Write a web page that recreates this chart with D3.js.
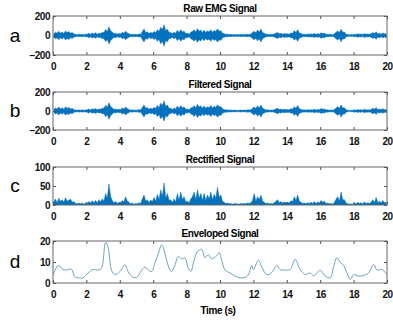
<!DOCTYPE html>
<html>
<head>
<meta charset="utf-8">
<script src="https://cdn.jsdelivr.net/npm/d3@7"></script>
<style>
  body { margin: 0; background: #fff; }
  text { font-family: "Liberation Sans", Arial, sans-serif; }
</style>
</head>
<body>
<div id="chart"></div>
<script>
// amplitude of the raw EMG band, one value per 0.1 s (units)
var rawAmp = [
  18, 34, 24, 44, 22, 36, 20, 46, 30, 40,
  22, 30, 16, 12, 8, 14, 9, 13, 8, 12,
  14, 22, 12, 26, 16, 28, 14, 24, 20, 32,
  30, 62, 40, 88, 50, 36, 18, 24, 14, 20,
  16, 34, 22, 44, 26, 18, 10, 14, 9, 12,
  10, 16, 12, 40, 66, 30, 38, 20, 32, 24,
  42, 28, 60, 40, 84, 60, 110, 50, 64, 30,
  30, 18, 34, 22, 54, 30, 58, 36, 44, 20,
  22, 14, 34, 40, 58, 36, 70, 44, 56, 32,
  54, 30, 48, 36, 60, 34, 52, 40, 68, 44,
  50, 24, 18, 12, 14, 9, 12, 8, 11, 8,
  10, 8, 12, 9, 11, 10, 13, 11, 16, 30,
  44, 28, 56, 34, 66, 30, 22, 12, 14, 9,
  12, 10, 16, 24, 30, 18, 22, 14, 20, 16,
  18, 14, 26, 22, 48, 30, 60, 26, 20, 12,
  14, 10, 16, 12, 16, 12, 20, 12, 18, 14,
  28, 20, 24, 12, 14, 9, 12, 8, 18, 34,
  46, 30, 64, 34, 36, 14, 10, 7, 9, 8,
  14, 10, 18, 12, 16, 10, 20, 12, 16, 12,
  18, 30, 20, 38, 16, 24, 14, 26, 16, 20
];

// filtered band, nearly the same as raw
var filtAmp = [
  16, 32, 22, 42, 20, 34, 18, 44, 28, 38,
  20, 28, 14, 11, 7, 12, 8, 12, 7, 11,
  12, 20, 11, 24, 15, 26, 13, 22, 18, 30,
  28, 60, 38, 86, 48, 34, 16, 22, 13, 18,
  15, 32, 20, 42, 24, 16, 9, 13, 8, 11,
  9, 15, 11, 38, 64, 28, 36, 18, 30, 22,
  40, 26, 58, 38, 82, 58, 106, 48, 62, 28,
  28, 16, 32, 20, 52, 28, 56, 34, 42, 18,
  20, 13, 32, 38, 56, 34, 68, 42, 54, 30,
  52, 28, 46, 34, 58, 32, 50, 38, 66, 42,
  48, 22, 16, 11, 12, 8, 11, 7, 10, 7,
  9, 7, 11, 8, 10, 9, 12, 10, 14, 28,
  42, 26, 54, 32, 64, 28, 20, 11, 12, 8,
  11, 9, 14, 22, 28, 16, 20, 13, 18, 14,
  16, 13, 24, 20, 46, 28, 58, 24, 18, 11,
  12, 9, 14, 11, 14, 11, 18, 11, 16, 12,
  26, 18, 22, 11, 12, 8, 11, 7, 16, 32,
  44, 28, 62, 32, 34, 13, 9, 6, 8, 7,
  12, 9, 16, 11, 14, 9, 18, 11, 14, 11,
  16, 28, 18, 36, 14, 22, 13, 24, 14, 18
];

// rectified signal peaks per 0.1 s
var rectVal = [
  8, 16, 6, 18, 9, 14, 7, 19, 10, 13,
  15, 7, 9, 4, 3, 5, 3, 5, 2, 5,
  4, 9, 5, 11, 6, 12, 5, 14, 8, 16,
  10, 30, 18, 55, 22, 12, 6, 9, 4, 7,
  5, 12, 8, 22, 10, 7, 3, 5, 2, 4,
  3, 6, 4, 16, 26, 10, 14, 6, 13, 9,
  20, 10, 28, 14, 40, 22, 58, 18, 30, 12,
  14, 6, 16, 8, 30, 12, 34, 14, 22, 8,
  10, 5, 16, 22, 34, 14, 40, 18, 30, 12,
  30, 12, 26, 16, 34, 14, 28, 18, 46, 20,
  26, 9, 7, 4, 5, 3, 4, 2, 4, 3,
  3, 2, 4, 3, 4, 3, 5, 4, 6, 12,
  30, 10, 22, 14, 26, 10, 7, 4, 5, 3,
  4, 3, 6, 10, 14, 6, 9, 5, 8, 6,
  7, 5, 11, 9, 22, 12, 26, 10, 7, 4,
  5, 3, 6, 4, 7, 4, 9, 4, 8, 5,
  12, 7, 10, 4, 5, 3, 4, 2, 7, 15,
  22, 10, 34, 14, 14, 5, 3, 2, 3, 2,
  5, 3, 7, 4, 6, 3, 8, 4, 6, 4,
  7, 14, 6, 20, 6, 10, 5, 12, 6, 8
];

// envelope
var envTime = [0, 0.32, 0.6, 0.8, 1.1, 1.3, 1.5, 1.8, 2.1, 2.4, 2.7, 2.9, 3.15, 3.3, 3.5, 3.7, 4.0, 4.3, 4.5, 4.7, 5.0, 5.3, 5.5, 5.7, 5.9, 6.1, 6.3, 6.5, 6.6, 6.8, 7.0, 7.1, 7.3, 7.5, 7.7, 7.9, 8.1, 8.25, 8.45, 8.65, 8.9, 9.1, 9.3, 9.5, 9.8, 9.95, 10.1, 10.3, 10.6, 10.9, 11.2, 11.5, 11.7, 11.9, 12.0, 12.3, 12.5, 12.8, 13.1, 13.4, 13.6, 13.9, 14.2, 14.5, 14.8, 15.1, 15.4, 15.6, 15.8, 16.0, 16.3, 16.6, 16.8, 17.0, 17.2, 17.4, 17.6, 17.8, 18.0, 18.3, 18.6, 18.9, 19.2, 19.4, 19.7, 20];
var envValue = [3.7, 8.4, 6.4, 6.2, 6.6, 2.9, 2.5, 2.5, 4.8, 6.4, 6.2, 7.0, 19.2, 17.0, 6.2, 4.0, 5.4, 8.7, 5.4, 3.2, 2.6, 6.0, 7.6, 6.2, 5.4, 9.5, 13.8, 18.1, 17.0, 10.9, 6.2, 5.4, 8.4, 12.6, 11.5, 12.0, 7.0, 5.4, 10.9, 15.0, 16.0, 12.0, 13.5, 11.5, 13.0, 14.5, 10.9, 6.2, 4.8, 3.3, 2.5, 2.6, 3.9, 8.4, 6.4, 10.9, 7.6, 4.0, 5.0, 8.4, 6.4, 6.2, 6.4, 11.3, 6.4, 4.0, 4.8, 3.3, 4.8, 6.2, 3.2, 2.5, 7.6, 12.0, 9.8, 8.4, 4.8, 1.7, 4.0, 3.3, 3.6, 4.8, 8.9, 6.2, 6.4, 4.0];

var xTicks = [0, 2, 4, 6, 8, 10, 12, 14, 16, 18, 20];

var panels = [
  { letter: "a", title: "Raw EMG Signal", top: 16, bottom: 55, domain: [-200, 200], yTicks: [-200, 0, 200] },
  { letter: "b", title: "Filtered Signal", top: 92, bottom: 130, domain: [-200, 200], yTicks: [-200, 0, 200] },
  { letter: "c", title: "Rectified Signal", top: 167, bottom: 205, domain: [0, 100], yTicks: [0, 50, 100] },
  { letter: "d", title: "Enveloped Signal", top: 241, bottom: 283, domain: [0, 20], yTicks: [0, 10, 20] }
];

var width = 393, height = 322;
var left = 53, right = 387;
var blue = "#0072bd";

var svg = d3.select("#chart").append("svg")
  .attr("width", width)
  .attr("height", height);

var x = d3.scaleLinear().domain([0, 20]).range([left, right]);

panels.forEach(function(p, k) {
  var y = d3.scaleLinear().domain(p.domain).range([p.bottom, p.top]);
  var g = svg.append("g");

  // clip so nothing runs out of the box
  g.append("clipPath").attr("id", "clip" + k)
    .append("rect")
    .attr("x", left).attr("y", p.top)
    .attr("width", right - left).attr("height", p.bottom - p.top);

  var plot = g.append("g").attr("clip-path", "url(#clip" + k + ")");

  if (k < 2) {
    var amp = k == 0 ? rawAmp : filtAmp;
    var band = d3.area()
      .x(function(d, i) { return x(i * 0.1 + 0.05); })
      .y0(function(d) { return y(-d); })
      .y1(function(d) { return y(d); });
    plot.append("path")
      .datum(amp)
      .attr("d", band)
      .attr("fill", blue)
      .attr("stroke", blue)
      .attr("stroke-width", 0.5);
  } else if (k == 2) {
    var fill = d3.area()
      .x(function(d, i) { return x(i * 0.1 + 0.05); })
      .y0(y(0))
      .y1(function(d) { return y(d); });
    plot.append("path")
      .datum(rectVal)
      .attr("d", fill)
      .attr("fill", blue)
      .attr("stroke", blue)
      .attr("stroke-width", 0.5);
  } else {
    var line = d3.line()
      .x(function(d, i) { return x(envTime[i]); })
      .y(function(d) { return y(d); })
      .curve(d3.curveCatmullRom);
    plot.append("path")
      .datum(envValue)
      .attr("d", line)
      .attr("fill", "none")
      .attr("stroke", "#6fa3bd")
      .attr("stroke-width", 1);
  }

  // axes, ticks pointing in like matlab
  g.append("g")
    .attr("transform", "translate(0," + p.bottom + ")")
    .call(d3.axisBottom(x).tickValues(xTicks).tickSize(-3).tickPadding(8));
  g.append("g")
    .attr("transform", "translate(0," + p.top + ")")
    .call(d3.axisTop(x).tickValues(xTicks).tickSize(-3).tickFormat(""));
  g.append("g")
    .attr("transform", "translate(" + left + ",0)")
    .call(d3.axisLeft(y).tickValues(p.yTicks).tickSize(-3).tickPadding(3));
  g.append("g")
    .attr("transform", "translate(" + right + ",0)")
    .call(d3.axisRight(y).tickValues(p.yTicks).tickSize(-3).tickFormat(""));

  g.selectAll(".domain").remove();
  g.selectAll(".tick line").attr("stroke", "#555");
  g.selectAll(".tick text")
    .attr("fill", "#111")
    .style("font-size", "10px")
    .style("font-weight", "bold")
    .style("letter-spacing", "-0.5px");

  g.append("rect")
    .attr("x", left).attr("y", p.top)
    .attr("width", right - left).attr("height", p.bottom - p.top)
    .attr("fill", "none")
    .attr("stroke", "#666")
    .attr("stroke-width", 1);

  g.append("text")
    .attr("x", (left + right) / 2)
    .attr("y", p.top - 4)
    .attr("text-anchor", "middle")
    .style("font-size", "10px")
    .style("font-weight", "bold")
    .style("letter-spacing", "-0.4px")
    .text(p.title);

  g.append("text")
    .attr("x", 15)
    .attr("y", (p.top + p.bottom) / 2 + 6)
    .attr("text-anchor", "middle")
    .style("font-size", "19px")
    .text(p.letter);
});

svg.append("text")
  .attr("x", 218)
  .attr("y", 314)
  .attr("text-anchor", "middle")
  .style("font-size", "10px")
  .style("font-weight", "bold")
  .style("letter-spacing", "-0.4px")
  .text("Time (s)");
</script>
</body>
</html>
